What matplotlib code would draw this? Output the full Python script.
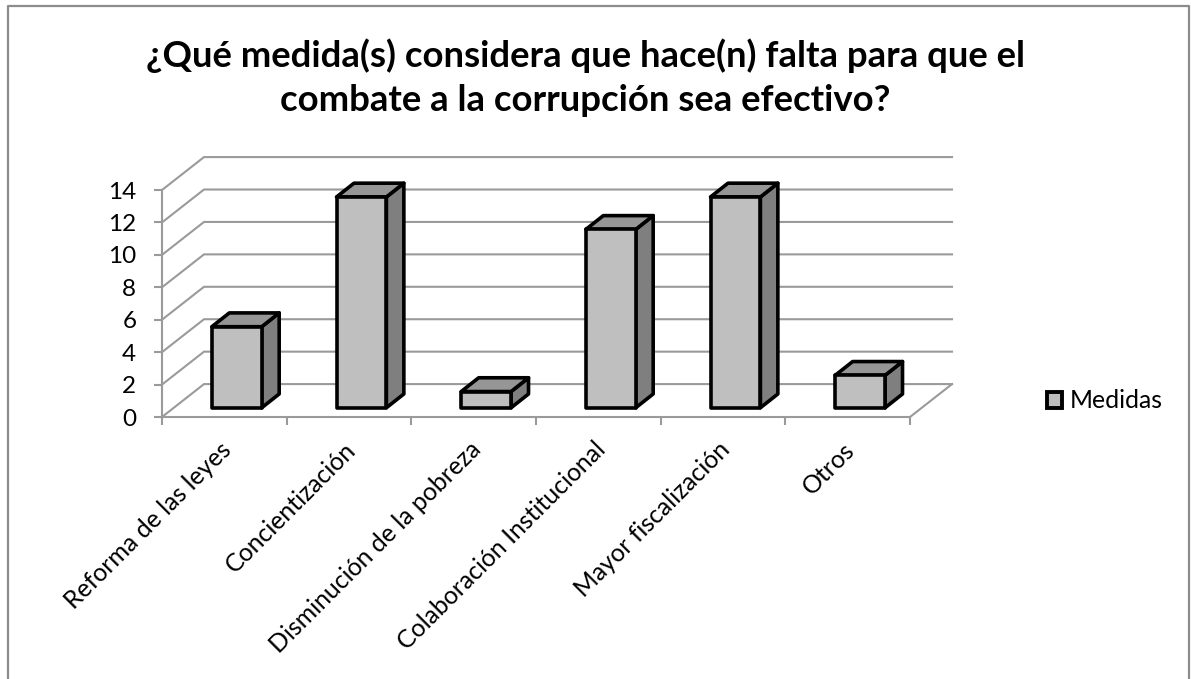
import matplotlib
matplotlib.use("Agg")
import matplotlib.pyplot as plt
from matplotlib.lines import Line2D
from matplotlib.patches import Patch, Polygon

categories = ["Reforma de las leyes", "Concientización", "Disminución de la pobreza",
              "Colaboración Institucional", "Mayor fiscalización", "Otros"]
values = [5, 13, 1, 11, 13, 2]
series_name = "Medidas"
y_ticks = [0, 2, 4, 6, 8, 10, 12, 14]
title = "¿Qué medida(s) considera que hace(n) falta para que el\ncombate a la corrupción sea efectivo?"

W, H = 1191, 679
GRID = "#9a9a9a"
FRONT, SIDE, TOP = "#bfbfbf", "#7f7f7f", "#969696"

plt.rcParams["font.family"] = ["Lato", "DejaVu Sans"]

fig = plt.figure(figsize=(W / 100, H / 100), dpi=100)
ax = fig.add_axes([162 / W, 1 - 417 / H, (910 - 162) / W, (417 - 190) / H])
ax.set_xlim(0, 6)
ax.set_ylim(0, 14)

# Oblique projection in data units: wall depth, then bar placement and bar depth
wall_dx, wall_dy = 0.337, 2.03
bar_x, bar_w, bar_y = 0.40, 0.40, 0.57
bar_dx, bar_dy = 0.14, 0.85

# Chart frame, open along the bottom edge
fig.add_artist(Line2D([8 / W, 8 / W, 1189 / W, 1189 / W],
                      [0, 1 - 6 / H, 1 - 6 / H, 0],
                      color="#8c8c8c", lw=1.6))

# Side and back wall gridlines, plus the right edge of the floor
for v in y_ticks:
    ax.plot([0, wall_dx, 6 + wall_dx], [v, v + wall_dy, v + wall_dy],
            color=GRID, lw=1.5, clip_on=False, zorder=1, solid_joinstyle="miter")
ax.plot([6, 6 + wall_dx], [0, wall_dy], color=GRID, lw=1.5, clip_on=False, zorder=1)

# Extruded bars
edge = dict(edgecolor="black", lw=2.6, joinstyle="round", clip_on=False, zorder=3)
for i, v in enumerate(values):
    x0, x1 = i + bar_x, i + bar_x + bar_w
    y0, y1 = bar_y, bar_y + v
    ax.add_patch(Polygon([(x1, y0), (x1 + bar_dx, y0 + bar_dy),
                          (x1 + bar_dx, y1 + bar_dy), (x1, y1)], facecolor=SIDE, **edge))
    ax.add_patch(Polygon([(x0, y1), (x1, y1), (x1 + bar_dx, y1 + bar_dy),
                          (x0 + bar_dx, y1 + bar_dy)], facecolor=TOP, **edge))
    ax.add_patch(Polygon([(x0, y0), (x1, y0), (x1, y1), (x0, y1)], facecolor=FRONT, **edge))

# Axes: boundary ticks on x, category names just left of each slot's centre
for side in ("top", "right"):
    ax.spines[side].set_visible(False)
for side in ("left", "bottom"):
    ax.spines[side].set_color(GRID)
    ax.spines[side].set_linewidth(1.5)
ax.set_yticks(y_ticks)
ax.tick_params(axis="y", length=5.5, width=1.5, color=GRID, labelsize=17.5, pad=13)
ax.set_xticks(range(7), minor=True)
ax.tick_params(axis="x", which="minor", length=5.5, width=1.5, color=GRID)
ax.set_xticks([i + 0.46 for i in range(6)])
ax.set_xticklabels(categories, rotation=45, ha="right", rotation_mode="anchor", fontsize=17.9)
ax.tick_params(axis="x", which="major", length=0, pad=15)

fig.text(585 / W, 1 - 78 / H, title, ha="center", va="center",
         fontsize=26.3, fontweight="bold", linespacing=1.42)

leg = fig.legend(handles=[Patch(facecolor=FRONT, edgecolor="black", lw=2.8, label=series_name)],
                 loc="center left", bbox_to_anchor=(1047 / W, 1 - 401 / H), frameon=False,
                 fontsize=17.8, handlelength=0.62, handleheight=0.62,
                 handletextpad=0.28, borderpad=0, borderaxespad=0)

fig.savefig("out.png", dpi=100)
